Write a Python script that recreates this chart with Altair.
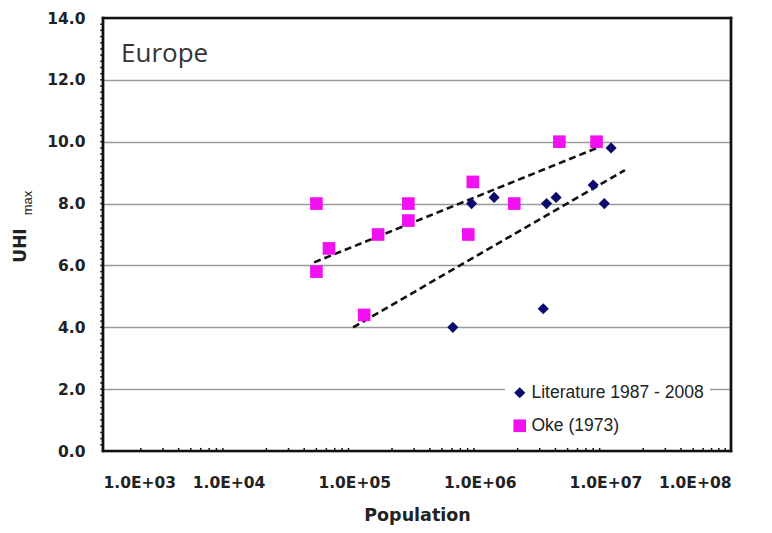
import altair as alt
import pandas as pd

# ---- data ----
lit_pop = [6.1e5, 8.6e5, 1.3e6, 3.2e6, 3.4e6, 4.05e6, 8.0e6, 9.8e6, 1.11e7]
lit_uhi = [4.0, 8.0, 8.2, 4.6, 8.0, 8.2, 8.6, 8.0, 9.8]

oke_pop = [5.0e4, 5.0e4, 6.3e4, 1.55e5, 1.2e5, 2.7e5, 2.7e5, 8.8e5, 8.1e5, 1.88e6, 4.3e6, 8.5e6]
oke_uhi = [8.0, 5.8, 6.55, 7.0, 4.4, 8.0, 7.45, 8.7, 7.0, 8.0, 10.0, 10.0]

# trend lines (end points)
oke_fit_pop = [4.8e4, 8.6e6]
oke_fit_uhi = [6.1, 9.8]
lit_fit_pop = [9.8e4, 1.43e7]
lit_fit_uhi = [4.0, 9.08]

series = ["Literature 1987 - 2008", "Oke (1973)"]
colors = ["#0b0b6e", "#f010f0"]
shapes = ["diamond", "square"]

x_domain = [1e3, 1e8]
y_domain = [0, 14]
x_ticks = [1e3, 1e4, 1e5, 1e6, 1e7, 1e8]
x_tick_labels = ["1.0E+03", "1.0E+04", "1.0E+05", "1.0E+06", "1.0E+07", "1.0E+08"]
y_ticks = [0, 2, 4, 6, 8, 10, 12, 14]
x_minor = [k * 10 ** d for d in range(3, 8) for k in range(2, 10)]
y_minor = [round(i * 0.2, 1) for i in range(1, 70)]

FONT = "Liberation Sans"
AXFONT = "DejaVu Sans"

pts = pd.DataFrame(
    {
        "Population": lit_pop + oke_pop,
        "UHI": lit_uhi + oke_uhi,
        "Series": [series[0]] * len(lit_pop) + [series[1]] * len(oke_pop),
    }
)
fits = pd.DataFrame(
    {
        "Population": oke_fit_pop + lit_fit_pop,
        "UHI": oke_fit_uhi + lit_fit_uhi,
        "Fit": ["oke"] * 2 + ["lit"] * 2,
    }
)

label_expr = "[" + ",".join("'%s'" % s for s in x_tick_labels) + "][round(log(datum.value)/LN10) - 3]"

xscale = alt.Scale(type="log", domain=x_domain, nice=False)
yscale = alt.Scale(domain=y_domain, nice=False, zero=False)

xaxis = alt.Axis(
    values=x_ticks,
    labelExpr=label_expr,
    grid=False,
    domain=False,
    ticks=False,
    labelPadding=24,
    labelFont=AXFONT,
    labelFontSize=15.5,
    labelFontWeight="bold",
    labelColor="#222",
    title="Population",
    titleFont=AXFONT,
    titleFontSize=17.5,
    titleFontWeight="bold",
    titleColor="#222",
    titleBaseline="alphabetic",
    titleY=69,
)
yaxis = alt.Axis(
    values=y_ticks,
    format=".1f",
    grid=True,
    gridColor="#9a9a9a",
    gridWidth=1.6,
    domain=False,
    ticks=False,
    labelPadding=18,
    labelFont=AXFONT,
    labelFontSize=15.5,
    labelFontWeight="bold",
    labelColor="#222",
    title="UHI",
    titleFont=AXFONT,
    titleFontSize=17,
    titleFontWeight="bold",
    titleColor="#222",
    titleAngle=270,
    titleAlign="center",
    titleBaseline="alphabetic",
    titleX=-78,
    titleY=227,
)

base = alt.Chart(pts)

points = base.mark_point(filled=True, opacity=1).encode(
    x=alt.X("Population:Q", scale=xscale, axis=xaxis),
    y=alt.Y("UHI:Q", scale=yscale, axis=yaxis),
    color=alt.Color(
        "Series:N",
        scale=alt.Scale(domain=series, range=colors),
        legend=alt.Legend(
            title=None,
            orient="none",
            legendX=402,
            legendY=360,
            fillColor="white",
            padding=6,
            labelFont=FONT,
            labelFontSize=17.5,
            labelColor="#222",
            labelLimit=400,
            symbolSize=75,
            rowPadding=14,
            labelOffset=3,
        ),
    ),
    shape=alt.Shape("Series:N", scale=alt.Scale(domain=series, range=shapes)),
    size=alt.Size("Series:N", scale=alt.Scale(domain=series, range=[125, 160]), legend=None),
)

lines = alt.Chart(fits).mark_line(color="#111", strokeWidth=2.6, strokeDash=[7, 4]).encode(
    x=alt.X("Population:Q", scale=xscale),
    y=alt.Y("UHI:Q", scale=yscale),
    detail="Fit:N",
)

xminor_df = pd.DataFrame({"Population": x_minor, "y0": 0.0, "y1": 0.1})
xminor = alt.Chart(xminor_df).mark_rule(color="#111", strokeWidth=1.5).encode(
    x=alt.X("Population:Q", scale=xscale),
    y=alt.Y("y0:Q", scale=yscale),
    y2="y1:Q",
)

yminor_df = pd.DataFrame({"UHI": y_minor, "x0": 10 ** 2.978, "x1": 10 ** 3.0})
yminor = alt.Chart(yminor_df).mark_rule(color="#111", strokeWidth=1.5).encode(
    x=alt.X("x0:Q", scale=xscale),
    x2="x1:Q",
    y=alt.Y("UHI:Q", scale=yscale),
)

# plot frame: bottom, top, left, right edges of the data domain
frame_df = pd.DataFrame(
    {
        "x0": [x_domain[0], x_domain[0], x_domain[0], x_domain[1]],
        "x1": [x_domain[1], x_domain[1], x_domain[0], x_domain[1]],
        "y0": [y_domain[0], y_domain[1], y_domain[0], y_domain[0]],
        "y1": [y_domain[0], y_domain[1], y_domain[1], y_domain[1]],
    }
)
frame = alt.Chart(frame_df).mark_rule(color="#111", strokeWidth=2.6, strokeCap="square").encode(
    x=alt.X("x0:Q", scale=xscale),
    x2="x1:Q",
    y=alt.Y("y0:Q", scale=yscale),
    y2="y1:Q",
)

sub = alt.Chart(pd.DataFrame({"t": ["max"]})).mark_text(
    angle=270, font=FONT, fontSize=13, color="#222", align="center", baseline="alphabetic"
).encode(text="t:N", x=alt.value(-71), y=alt.value(185))

region = alt.Chart(pd.DataFrame({"t": ["Europe"]})).mark_text(
    font="Open Sans", fontSize=26, color="#333", align="left", baseline="alphabetic"
).encode(text="t:N", x=alt.value(18), y=alt.value(44))

chart = (
    alt.layer(lines, points, xminor, yminor, frame, sub, region)
    .properties(
        width=628,
        height=433,
        autosize=alt.AutoSizeParams(type="none"),
        padding={"left": 95, "top": 10, "right": 33, "bottom": 74},
    )
    .configure(background="white")
    .configure_view(stroke="#111", strokeWidth=2.2)
)

chart.save("out.html", embed_options={"renderer": "svg", "actions": False})
